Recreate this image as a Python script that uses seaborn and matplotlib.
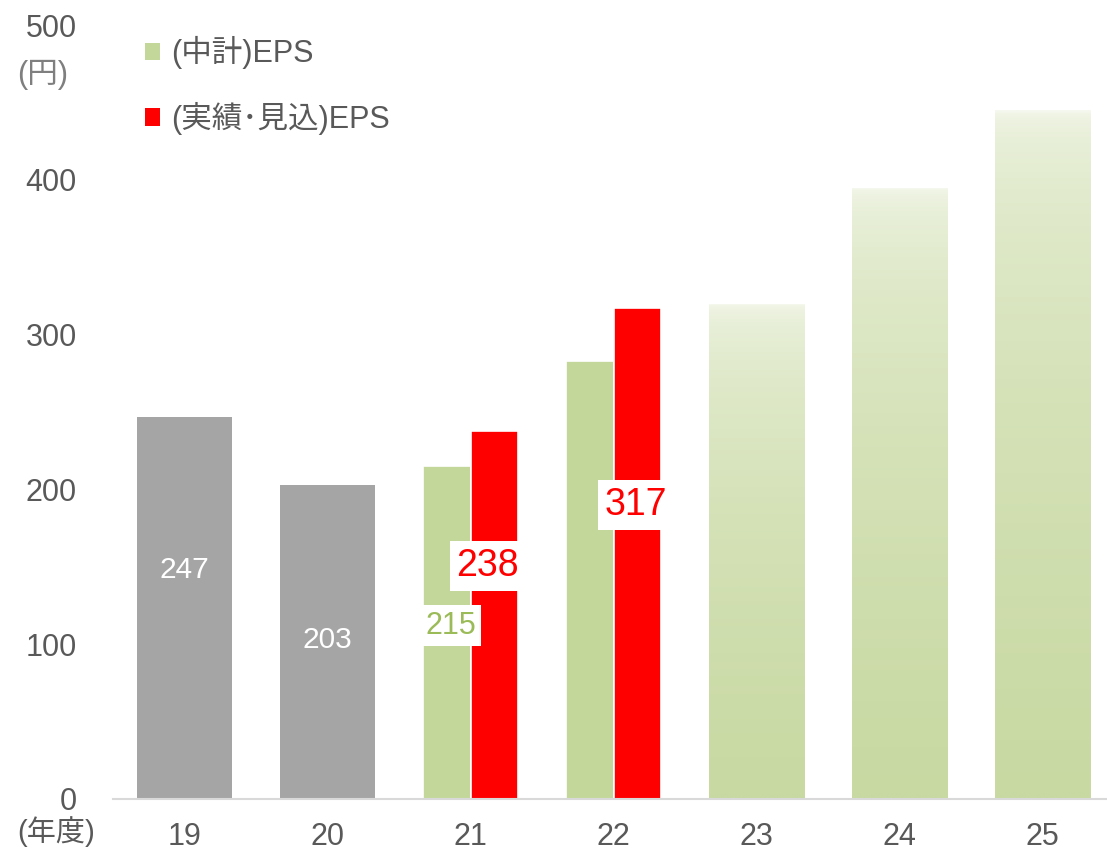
import numpy as np
import pandas as pd
import matplotlib
matplotlib.use("Agg")
import matplotlib.pyplot as plt
import seaborn as sns
from matplotlib.patches import Patch
from matplotlib.colors import LinearSegmentedColormap

# Fiscal years (年度) and EPS values (円)
years = ["19", "20", "21", "22", "23", "24", "25"]
past_years = ["19", "20"]
past_eps = [247, 203]
plan_years = ["21", "22"]
plan_eps = [215, 283]
actual_years = ["21", "22"]
actual_eps = [238, 317]
target_years = ["23", "24", "25"]
target_eps = [320, 395, 445]
series_names = ["(中計)EPS", "(実績･見込)EPS"]
yticks = [0, 100, 200, 300, 400, 500]

GREY = "#A5A5A5"
GREEN = "#C4D79B"
RED = "#FF0000"
TEXT = "#595959"
FS = 22

sns.set_theme(style="white")
plt.rcParams["font.family"] = ["Liberation Sans", "Noto Sans CJK JP"]

fig = plt.figure(figsize=(11.07, 8.51), dpi=100)
ax = fig.add_axes([113 / 1107, 1 - 799 / 851, (1107 - 113) / 1107, 774 / 851])

# Past results (grey)
past_df = pd.DataFrame({"year": past_years, "eps": past_eps})
sns.barplot(data=past_df, x="year", y="eps", order=years, color=GREY,
            width=0.67, saturation=1, linewidth=0, ax=ax)

# Mid-term plan vs actual/forecast (paired)
pair_df = pd.DataFrame({
    "year": plan_years + actual_years,
    "eps": plan_eps + actual_eps,
    "series": [series_names[0]] * len(plan_years) + [series_names[1]] * len(actual_years),
})
sns.barplot(data=pair_df, x="year", y="eps", hue="series", order=years,
            hue_order=series_names, palette=[GREEN, RED], width=0.67,
            saturation=1, dodge=True, edgecolor="white", linewidth=1.2,
            legend=False, ax=ax)

# Plan targets (gradient-filled)
n_before = len(ax.patches)
target_df = pd.DataFrame({"year": target_years, "eps": target_eps})
sns.barplot(data=target_df, x="year", y="eps", order=years, color=GREEN,
            width=0.67, saturation=1, linewidth=0, ax=ax)
target_bars = ax.patches[n_before:]

fade = LinearSegmentedColormap.from_list("fade", ["#C8D9A2", "#F5F8EE"])
t = np.linspace(0, 1, 256)[:, None]
grad = 1 - (1 - t) ** 0.4
for bar in target_bars:
    x0, w, h = bar.get_x(), bar.get_width(), bar.get_height()
    im = ax.imshow(grad, extent=[x0, x0 + w, 0, h], origin="lower", cmap=fade,
                   vmin=0, vmax=1, aspect="auto", zorder=bar.get_zorder() + 0.1)
    im.set_clip_path(bar)
    bar.set_facecolor("none")

# Value labels
ax.text(0, 148, "247", color="white", fontsize=21.5, ha="center", va="center")
ax.text(1, 103, "203", color="white", fontsize=21.5, ha="center", va="center")
box = dict(boxstyle="square,pad=0.18", facecolor="white", edgecolor="none")
ax.text(1.86, 112, "215", color="#9BBB59", fontsize=22, ha="center", va="center",
        bbox=box, zorder=5)
ax.text(2.12, 150.5, "238", color=RED, fontsize=27, ha="center", va="center",
        bbox=box, zorder=5)
ax.text(3.157, 190, "317", color=RED, fontsize=27, ha="center", va="center",
        bbox=box, zorder=5)

ax.set_xlim(-0.5, 6.45)
ax.set_ylim(0, 500)
ax.set_yticks(yticks)
ax.set_yticklabels([str(v) for v in yticks])
ax.set_xlabel("")
ax.set_ylabel("")
ax.tick_params(axis="y", length=0, pad=26, labelsize=FS, labelcolor=TEXT)
ax.tick_params(axis="x", length=0, pad=16.5, labelsize=FS, labelcolor=TEXT)
for side in ["left", "top", "right"]:
    ax.spines[side].set_visible(False)
ax.spines["bottom"].set_color("#D9D9D9")
ax.spines["bottom"].set_linewidth(1.5)

fig.text(43 / 1107, 1 - 75 / 851, "(円)", fontsize=FS, color="#7F7F7F",
         ha="center", va="center")
fig.text(56 / 1107, 1 - 832 / 851, "(年度)", fontsize=21, color=TEXT,
         ha="center", va="center")

handles = [Patch(facecolor=GREEN, edgecolor="none"), Patch(facecolor=RED, edgecolor="none")]
fig.legend(handles, series_names, loc="upper left",
           bbox_to_anchor=(145 / 1107, 1 - 36 / 851), frameon=False,
           fontsize=FS, labelcolor=TEXT, handlelength=0.5, handleheight=0.5,
           handletextpad=0.35, labelspacing=1.07, borderpad=0, borderaxespad=0)

fig.savefig("out.png", dpi=100, facecolor="white")
